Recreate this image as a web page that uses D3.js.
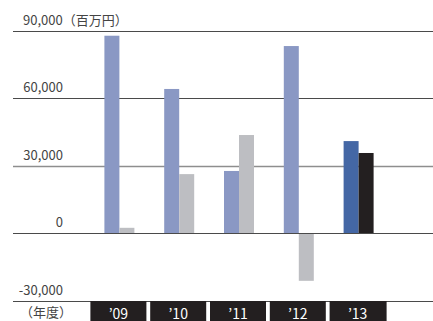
<!DOCTYPE html>
<html><head><meta charset="utf-8">
<script src="https://cdn.jsdelivr.net/npm/d3@7"></script>
<style>html,body{margin:0;padding:0;background:#fff;}svg{display:block;}</style>
</head><body>
<svg id="c" width="433" height="321"></svg>
<script>
const years = ["’09", "’10", "’11", "’12", "’13"];
const seriesA = [87900, 64200, 27700, 83300, 41000];
const seriesB = [2400, 26300, 43700, -21200, 35700];
const colorsA = ["#8a98c4", "#8a98c4", "#8a98c4", "#8a98c4", "#4467a5"];
const colorsB = ["#bdbec2", "#bdbec2", "#bdbec2", "#bdbec2", "#231f20"];
const ticks = [90000, 60000, 30000, 0, -30000];
const tickLabels = ["90,000（百万円）", "60,000", "30,000", "0", "-30,000"];
const unitLabel = "（年度）";

const svg = d3.select("#c");
const font = "'Noto Sans CJK JP', 'Noto Sans', sans-serif";
const y = d3.scaleLinear().domain([-30000, 90000]).range([300.6, 31]);
const x = d3.scaleBand().domain(years).range([89.5, 388.5]).padding(0);
const bw = 15;

// grid lines
svg.selectAll("line.grid").data(ticks).enter().append("line")
  .attr("x1", 13).attr("x2", 433)
  .attr("y1", d => Math.round(y(d)) + 0.5).attr("y2", d => Math.round(y(d)) + 0.5)
  .attr("stroke", d => d === 30000 ? "#8e8e8e" : "#4a4a4a")
  .attr("stroke-width", d => d === 30000 ? 1.6 : 1);

// tick labels
svg.selectAll("text.tick").data(ticks).enter().append("text")
  .attr("x", (d, i) => i === 0 ? 23 : 63)
  .attr("text-anchor", (d, i) => i === 0 ? "start" : "end")
  .attr("y", d => Math.round(y(d)) - 6)
  .attr("font-family", font).attr("font-size", 13).attr("fill", "#444")
  .text((d, i) => tickLabels[i]);

// bars
const cx = d => x(d) + x.bandwidth() / 2;
svg.selectAll("rect.a").data(years).enter().append("rect")
  .attr("x", d => cx(d) - bw).attr("width", bw)
  .attr("y", (d, i) => y(Math.max(0, seriesA[i])))
  .attr("height", (d, i) => Math.abs(y(seriesA[i]) - y(0)))
  .attr("fill", (d, i) => colorsA[i]);
svg.selectAll("rect.b").data(years).enter().append("rect")
  .attr("x", d => cx(d)).attr("width", bw)
  .attr("y", (d, i) => y(Math.max(0, seriesB[i])))
  .attr("height", (d, i) => Math.abs(y(seriesB[i]) - y(0)))
  .attr("fill", (d, i) => colorsB[i]);

// zero line on top
svg.append("line").attr("x1", 13).attr("x2", 433)
  .attr("y1", Math.round(y(0)) + 0.5).attr("y2", Math.round(y(0)) + 0.5)
  .attr("stroke", "#4a4a4a").attr("stroke-width", 1);

// category boxes
const boxW = 56;
svg.selectAll("rect.box").data(years).enter().append("rect")
  .attr("x", d => cx(d) - boxW / 2 - 1).attr("width", (d, i) => i === 4 ? boxW + 1 : boxW)
  .attr("y", 301).attr("height", 20)
  .attr("fill", "#231f20");
svg.selectAll("text.cat").data(years).enter().append("text")
  .attr("x", d => cx(d) - 1).attr("y", 318.5)
  .attr("text-anchor", "middle")
  .attr("font-family", font).attr("font-size", 14).attr("fill", "#ffffff")
  .text(d => d);

svg.append("text").attr("x", 20).attr("y", 317)
  .attr("font-family", font).attr("font-size", 13).attr("fill", "#444")
  .text(unitLabel);
</script>
</body></html>
